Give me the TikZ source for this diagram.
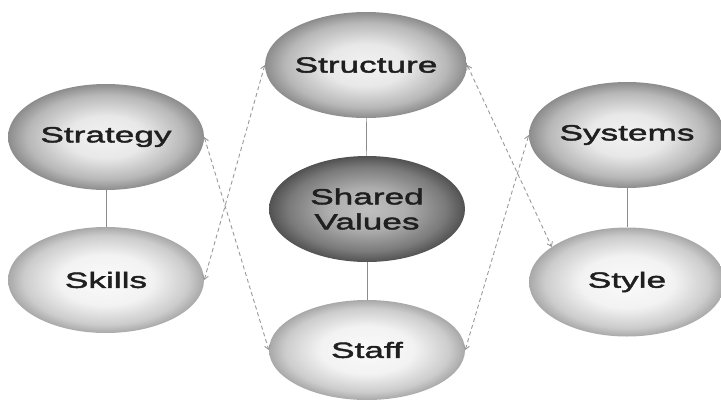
\documentclass[tikz,border=0pt]{standalone}
\usepackage{fontspec}
\newfontfamily\sevensfont[FakeStretch=1.6,FakeBold=2]{Liberation Sans}
\usetikzlibrary{arrows.meta,shapes.geometric}

% Grey balls with a pale middle and a darker rim.
\pgfdeclareradialshading{midball}{\pgfpoint{0bp}{0bp}}{%
  color(0bp)=(black!5); color(10bp)=(black!9); color(20bp)=(black!28);
  color(25bp)=(black!45); color(50bp)=(black!45)}
\pgfdeclareradialshading{paleball}{\pgfpoint{0bp}{0bp}}{%
  color(0bp)=(black!2); color(12bp)=(black!5); color(21bp)=(black!20);
  color(25bp)=(black!34); color(50bp)=(black!34)}
\pgfdeclareradialshading{darkball}{\pgfpoint{0bp}{0bp}}{%
  color(0bp)=(black!25); color(10bp)=(black!32); color(20bp)=(black!52);
  color(25bp)=(black!68); color(50bp)=(black!68)}

\begin{document}
\begin{tikzpicture}[>=Latex, x=1pt, y=-1pt,
    factor/.style={ellipse, minimum width=196pt, minimum height=106pt,
      inner sep=0pt, align=center, text=black!88,
      font=\sevensfont\fontsize{22}{25}\selectfont, shading=midball},
    tie/.style={draw=black!45, line width=0.7pt},
    crosslink/.style={draw=black!40, line width=0.9pt, dash pattern=on 4pt off 3pt,
      {Straight Barb[length=4pt,width=6pt]}-{Straight Barb[length=4pt,width=6pt]}}]

  \useasboundingbox (0,0) rectangle (721,402);

  % Hard elements on the left and in the middle, soft elements on the right.
  \node[factor] (strategy)  at (106,137) {Strategy};
  \node[factor, shading=paleball] (skills) at (106,280) {Skills};
  \node[factor] (structure) at (366,65)  {Structure};
  \node[factor, shading=darkball] (shared) at (367,209) {Shared\\Values};
  \node[factor, shading=paleball, minimum height=100pt] (staff) at (367,350) {Staff};
  \node[factor] (systems)   at (627,135) {Systems};
  \node[factor, shading=paleball, minimum height=109pt] (style) at (627,282) {Style};

  \foreach \a/\b in {strategy/skills, structure/shared, shared/staff, systems/style}
    \draw[tie] (\a) -- (\b);

  % Dashed links crossing between the columns.
  \draw[crosslink] (structure.west) -- (skills.east);
  \draw[crosslink] (strategy.east) -- (staff.west);
  \draw[crosslink] (structure.east) -- (style.155);
  \draw[crosslink] (staff.east) -- (systems.west);

\end{tikzpicture}
\end{document}
